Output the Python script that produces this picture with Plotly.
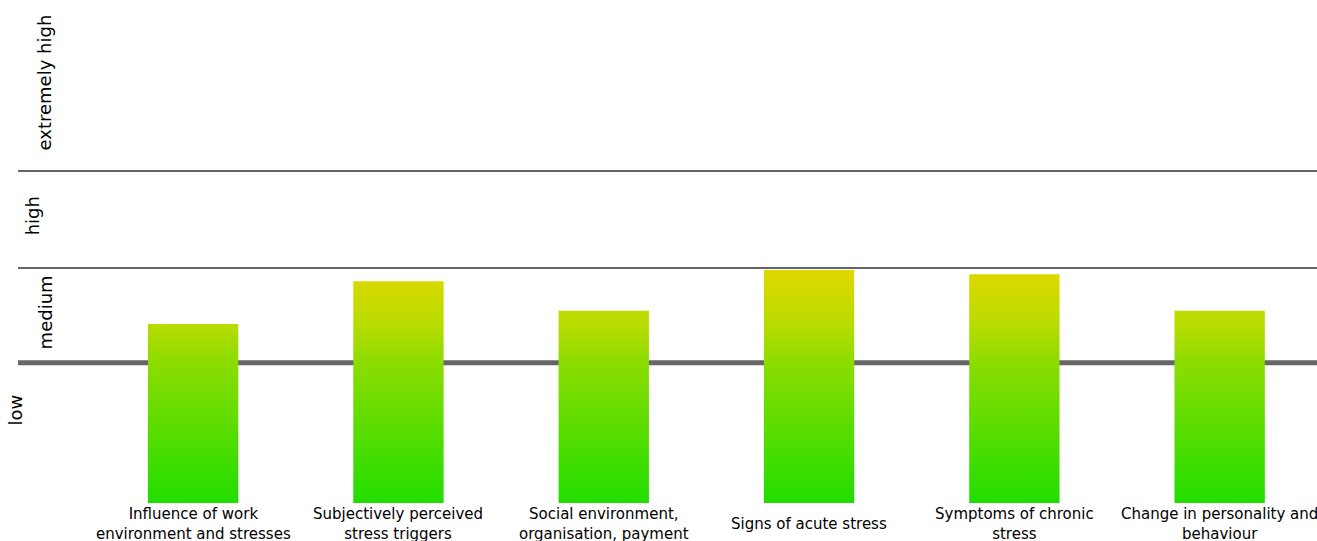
import plotly.graph_objects as go

# ---------------- data ----------------
categories = [
    "Influence of work environment and stresses",
    "Subjectively perceived stress triggers",
    "Social environment, organisation, payment",
    "Signs of acute stress",
    "Symptoms of chronic stress",
    "Change in personality and behaviour",
]
tick_labels = [
    "Influence of work<br>environment and stresses",
    "Subjectively perceived<br>stress triggers",
    "Social environment,<br>organisation, payment",
    "Signs of acute stress",
    "Symptoms of chronic<br>stress",
    "Change in personality and<br>behaviour",
]
scores = [35.6, 44.1, 38.2, 46.3, 45.5, 38.2]

level_names = ["low", "medium", "high", "extremely high"]
level_thresholds = [27.9, 46.7, 66.0]       # boundaries between levels
level_label_y = [18.5, 37.8, 57.1, 83.7]     # where each level name sits
level_label_x = [-0.0012, 0.0212, 0.0112, 0.0204]  # paper x of level names

# ---------------- style ----------------
BAR_HALF = 0.22
FONT = "DejaVu Sans"
colorscale = [
    [0.0, "#22dd00"],
    [0.56, "#8cdc00"],
    [0.71, "#b8dc00"],
    [0.93, "#e0d800"],
    [1.0, "#e6d600"],
]

fig = go.Figure()

for i, v in enumerate(scores):
    fig.add_trace(go.Scatter(
        x=[i - BAR_HALF, i - BAR_HALF, i + BAR_HALF, i + BAR_HALF, i - BAR_HALF],
        y=[0, v, v, 0, 0],
        mode="lines",
        line=dict(width=0, color="rgba(0,0,0,0)"),
        fill="toself",
        fillgradient=dict(type="vertical", colorscale=colorscale, start=0, stop=50),
        hoverinfo="text",
        text=f"{categories[i]}: {v}",
        showlegend=False,
    ))

# level boundary lines
for k, t in enumerate(level_thresholds):
    fig.add_shape(
        type="line", xref="paper", yref="y", x0=0, x1=1, y0=t, y1=t,
        line=dict(color="#666666", width=5 if k == 0 else 2),
        layer="below",
    )

# level names
for name, lx, ly in zip(level_names, level_label_x, level_label_y):
    fig.add_annotation(
        text=name, xref="paper", yref="y", x=lx, y=ly,
        textangle=-90, showarrow=False, xanchor="center", yanchor="middle",
        font=dict(family=FONT, size=18, color="#000000"),
    )

# category labels
for i, lab in enumerate(tick_labels):
    fig.add_annotation(
        text=lab, xref="x", yref="paper", x=i, y=0, yshift=-21,
        showarrow=False, xanchor="center", yanchor="middle",
        font=dict(family=FONT, size=15, color="#000000"),
    )

fig.update_layout(
    width=1317, height=541,
    margin=dict(l=18, r=0, t=0, b=38),
    paper_bgcolor="white", plot_bgcolor="white",
    xaxis=dict(range=[-0.853, 5.474], visible=False, fixedrange=True),
    yaxis=dict(range=[0, 100], visible=False, fixedrange=True),
    showlegend=False,
)

fig.write_html("out.html")
